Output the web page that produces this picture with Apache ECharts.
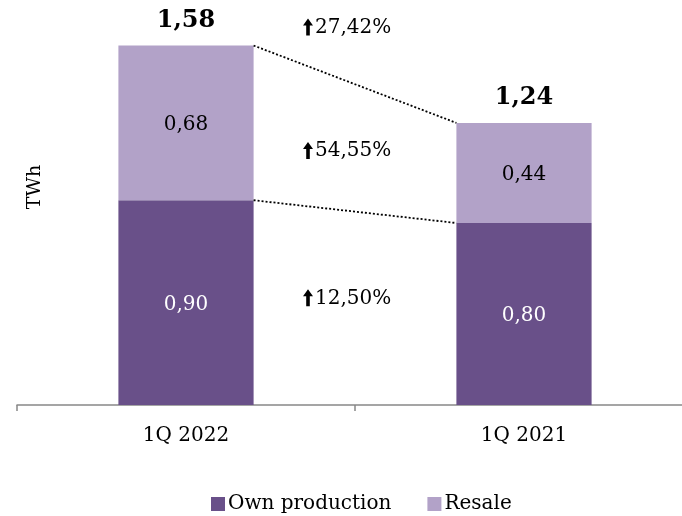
<!DOCTYPE html>
<html>
<head>
<meta charset="utf-8">
<script src="https://cdn.jsdelivr.net/npm/echarts@6/dist/echarts.min.js"></script>
<style>
  html, body { margin: 0; padding: 0; background: #fff; }
  #chart { width: 682px; height: 516px; }
</style>
</head>
<body>
<div id="chart"></div>
<script>
// Electricity volumes by quarter, TWh
const categories = ['1Q 2022', '1Q 2021'];
const ownProduction = [0.90, 0.80];
const resale = [0.68, 0.44];
const totals = [1.58, 1.24];

const FONT = '"DejaVu Serif", "Liberation Serif", serif';
const DARK = '#695089';
const LIGHT = '#B2A2C8';
const BAR_SHARE = 0.4;

const fmt = v => v.toFixed(2).replace('.', ',');
const pct = (a, b) => ((a / b - 1) * 100).toFixed(2).replace('.', ',') + '%';

// Dotted connectors: bar top and own-production top of each quarter
const connectors = [
  [totals[0], totals[1]],
  [ownProduction[0], ownProduction[1]]
];

// Year-over-year change notes: total, resale, own production
const changes = [
  { text: pct(totals[0], totals[1]), kind: 'total' },
  { text: pct(resale[0], resale[1]), kind: 'resale' },
  { text: pct(ownProduction[0], ownProduction[1]), kind: 'own' }
];

// Vertical nudge (px) of each change note relative to its anchor
const NOTE_SHIFT = { total: -18, resale: 3, own: -10 };

const chart = echarts.init(document.getElementById('chart'));

function segMid(kind, i) {
  if (kind === 'resale') return ownProduction[i] + resale[i] / 2;
  return ownProduction[i] / 2;
}

chart.setOption({
  animation: false,
  textStyle: { fontFamily: FONT },
  grid: { left: 17, width: 676, top: 41, bottom: 111, outerBoundsMode: 'none', containLabel: false },
  graphic: [{
    type: 'text',
    x: 35,
    y: 187,
    rotation: Math.PI / 2,
    style: {
      text: 'TWh',
      fill: '#000',
      font: '19px ' + FONT,
      align: 'center',
      verticalAlign: 'middle'
    }
  }],
  legend: {
    data: ['Own production', 'Resale'],
    left: 206,
    top: 489,
    itemWidth: 14,
    itemHeight: 14,
    itemGap: 36,
    icon: 'rect',
    textStyle: { fontFamily: FONT, fontSize: 20, color: '#000', padding: [0, 0, 0, -2] }
  },
  xAxis: {
    type: 'category',
    data: categories,
    axisLine: { lineStyle: { color: '#888', width: 1.5 } },
    axisTick: { show: true, length: 6, lineStyle: { color: '#888', width: 1.5 } },
    axisLabel: { color: '#000', fontSize: 20, fontFamily: FONT, margin: 21 }
  },
  yAxis: {
    type: 'value',
    min: 0,
    max: 1.6,
    show: false
  },
  series: [
    {
      name: 'Own production',
      type: 'bar',
      stack: 'volume',
      barWidth: (BAR_SHARE * 100) + '%',
      data: ownProduction,
      itemStyle: { color: DARK },
      label: {
        show: true,
        position: 'inside',
        offset: [0, 2],
        color: '#fff',
        fontSize: 20,
        fontFamily: FONT,
        formatter: p => fmt(p.value)
      }
    },
    {
      name: 'Resale',
      type: 'bar',
      stack: 'volume',
      data: resale,
      itemStyle: { color: LIGHT },
      label: {
        show: true,
        position: 'inside',
        offset: [0, 2],
        color: '#000',
        fontSize: 20,
        fontFamily: FONT,
        formatter: p => fmt(p.value)
      }
    },
    {
      name: 'Total',
      type: 'scatter',
      symbolSize: 0,
      data: totals,
      itemStyle: { opacity: 1 },
      label: {
        show: true,
        position: 'top',
        distance: 13,
        color: '#000',
        opacity: 1,
        fontSize: 24,
        fontWeight: 'bold',
        fontFamily: FONT,
        formatter: p => fmt(p.value)
      },
      emphasis: { disabled: true },
      z: 5
    },
    {
      name: 'Connectors',
      type: 'custom',
      data: connectors,
      clip: false,
      renderItem: (params, api) => {
        const bw = api.size([1, 0])[0] * BAR_SHARE;
        const p0 = api.coord([0, api.value(0)]);
        const p1 = api.coord([1, api.value(1)]);
        return {
          type: 'line',
          shape: { x1: p0[0] + bw / 2, y1: p0[1], x2: p1[0] - bw / 2, y2: p1[1] },
          style: { stroke: '#000', lineWidth: 1.8, lineDash: [2, 2] }
        };
      },
      z: 4
    },
    {
      name: 'Changes',
      type: 'custom',
      data: changes.map((c, i) => [i, 0]),
      clip: false,
      renderItem: (params, api) => {
        const c = changes[params.dataIndex];
        const a = api.coord([0, 0]);
        const b = api.coord([1, 0]);
        const midX = (a[0] + b[0]) / 2;
        let y;
        if (c.kind === 'total') {
          y = api.coord([0, Math.max(totals[0], totals[1])])[1];
        } else {
          const y0 = api.coord([0, segMid(c.kind, 0)])[1];
          const y1 = api.coord([1, segMid(c.kind, 1)])[1];
          y = (y0 + y1) / 2;
        }
        y += NOTE_SHIFT[c.kind];
        const tx = midX - 40;
        const ax = tx - 7;
        return {
          type: 'group',
          children: [
            {
              type: 'polygon',
              shape: {
                points: [
                  [ax, y - 9], [ax + 5, y - 2], [ax + 1.8, y - 2], [ax + 1.8, y + 8],
                  [ax - 1.8, y + 8], [ax - 1.8, y - 2], [ax - 5, y - 2]
                ]
              },
              style: { fill: '#000' }
            },
            {
              type: 'text',
              style: {
                text: c.text,
                x: tx,
                y: y,
                align: 'left',
                verticalAlign: 'middle',
                fill: '#000',
                font: '20px ' + FONT
              }
            }
          ]
        };
      },
      z: 6
    }
  ]
});
</script>
</body>
</html>
